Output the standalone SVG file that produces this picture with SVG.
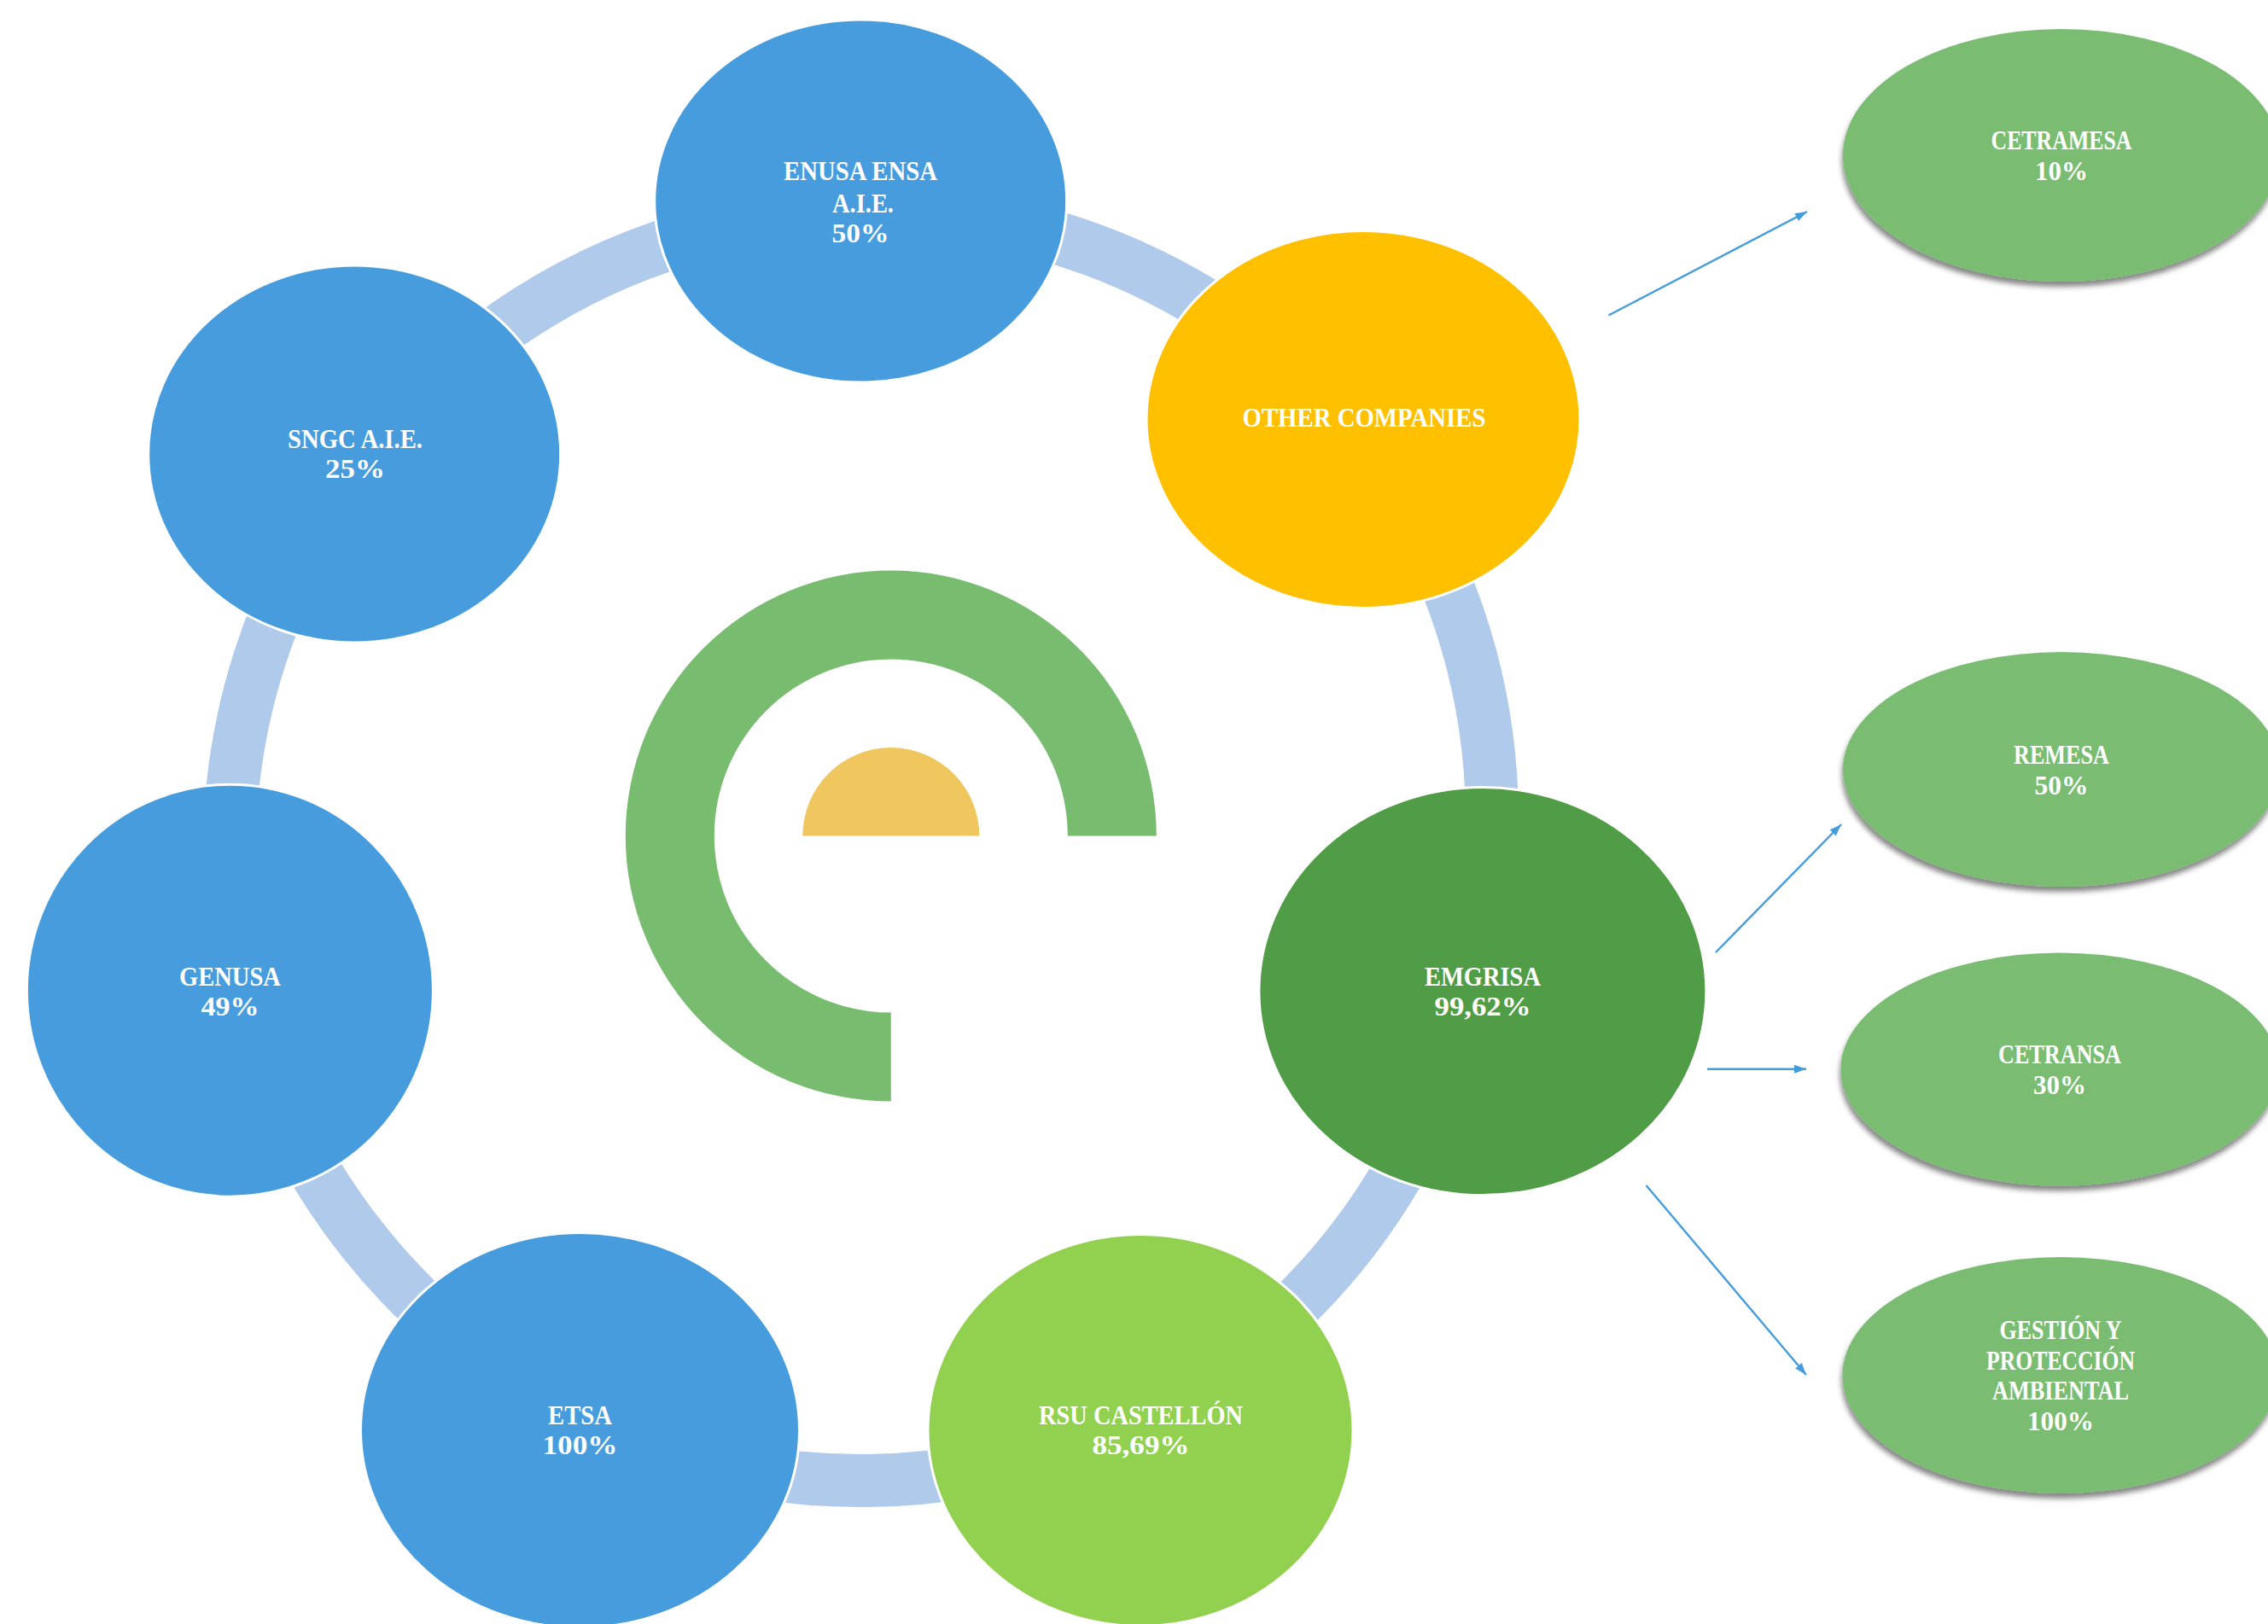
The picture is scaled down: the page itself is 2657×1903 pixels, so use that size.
<svg xmlns="http://www.w3.org/2000/svg" width="2657" height="1903" viewBox="0 0 2657 1903">
<style>
text{font-family:"Liberation Serif",serif;font-weight:bold;font-size:31px;fill:#fff;text-anchor:middle}
.blue{fill:#469CDD;stroke:#fff;stroke-width:3}
.side{fill:#7ABD72;filter:url(#shadow)}
.ring{fill:none;stroke:#AFCAEB;stroke-width:62}
.arrow{fill:none;stroke:#459CDD;stroke-width:2.4;marker-end:url(#head)}
</style>
<defs>
<marker id="head" markerUnits="userSpaceOnUse" markerWidth="14" markerHeight="10" refX="14" refY="5" orient="auto"><path d="M0 0L14 5L0 10Z" fill="#459CDD"/></marker>
<filter id="shadow" x="-10%" y="-10%" width="120%" height="125%"><feDropShadow dx="-1" dy="6" stdDeviation="3" flood-color="#000" flood-opacity=".48"/></filter>
</defs>
<rect width="2657" height="1903" fill="#fff"/>
<g id="logo">
<path d="M1354.8 979.6A311 311 0 1 0 1043.8 1290.6V1186.5A207 207 0 1 1 1250.8 979.6Z" fill="#78BC6F"/>
<path d="M940.3 979.6A103.5 103.5 0 0 1 1147.3 979.6Z" fill="#F0C75E"/>
</g>
<g id="connectors">
<path class="ring" d="M1215 272A744 744 0 0 1 1428 367"/>
<path class="ring" d="M1687 666A744 744 0 0 1 1748 953"/>
<path class="ring" d="M1649 1354A744 744 0 0 1 1502 1544"/>
<path class="ring" d="M1329 1662A744 744 0 0 1 686 1662"/>
<path class="ring" d="M686 1662A744 744 0 0 1 283 1158"/>
<path class="ring" d="M270 953A744 744 0 0 1 328 708"/>
<path class="ring" d="M571 397A744 744 0 0 1 806 279"/>
<line class="arrow" x1="1884.5" y1="369.5" x2="2117" y2="248"/>
<line class="arrow" x1="2010" y1="1116" x2="2157" y2="966"/>
<line class="arrow" x1="2000" y1="1252.7" x2="2116" y2="1252.7"/>
<line class="arrow" x1="1928.5" y1="1389" x2="2116" y2="1611"/>
</g>
<g id="enusa"><ellipse class="blue" cx="1008.2" cy="235.5" rx="241.5" ry="212.5"/><text x="1008" y="211" textLength="180" lengthAdjust="spacingAndGlyphs">ENUSA ENSA</text><text x="1011" y="249" textLength="72" lengthAdjust="spacingAndGlyphs">A.I.E.</text><text x="1008" y="284" textLength="67" lengthAdjust="spacingAndGlyphs">50%</text></g>
<g id="other"><ellipse cx="1597" cy="491.4" rx="254" ry="221" fill="#FFC000" stroke="#fff" stroke-width="3"/><text x="1598" y="500" textLength="285" lengthAdjust="spacingAndGlyphs">OTHER COMPANIES</text></g>
<g id="sngc"><ellipse class="blue" cx="415.2" cy="532" rx="241.5" ry="221"/><text x="416" y="525" textLength="158" lengthAdjust="spacingAndGlyphs">SNGC A.I.E.</text><text x="416" y="560" textLength="70" lengthAdjust="spacingAndGlyphs">25%</text></g>
<g id="genusa"><ellipse class="blue" cx="269.4" cy="1160.7" rx="238" ry="241.5"/><text x="269.5" y="1155" textLength="119" lengthAdjust="spacingAndGlyphs">GENUSA</text><text x="269.5" y="1190" textLength="68" lengthAdjust="spacingAndGlyphs">49%</text></g>
<g id="emgrisa"><ellipse cx="1736.9" cy="1161.6" rx="262" ry="239" fill="#519C47" stroke="#fff" stroke-width="3"/><text x="1737" y="1155" textLength="136" lengthAdjust="spacingAndGlyphs">EMGRISA</text><text x="1737" y="1190" textLength="113" lengthAdjust="spacingAndGlyphs">99,62%</text></g>
<g id="etsa"><ellipse class="blue" cx="679.5" cy="1675.9" rx="257" ry="231.5"/><text x="679.5" y="1669" textLength="75" lengthAdjust="spacingAndGlyphs">ETSA</text><text x="679.5" y="1704" textLength="88" lengthAdjust="spacingAndGlyphs">100%</text></g>
<g id="rsu"><ellipse cx="1336" cy="1676" rx="249" ry="229.5" fill="#92D14F" stroke="#fff" stroke-width="3"/><text x="1336.5" y="1669" textLength="239" lengthAdjust="spacingAndGlyphs">RSU CASTELLÓN</text><text x="1336.5" y="1704" textLength="114" lengthAdjust="spacingAndGlyphs">85,69%</text></g>
<g id="cetramesa"><ellipse class="side" cx="2415" cy="182" rx="256" ry="148"/><text x="2415" y="175" textLength="165" lengthAdjust="spacingAndGlyphs">CETRAMESA</text><text x="2415" y="211" textLength="62" lengthAdjust="spacingAndGlyphs">10%</text></g>
<g id="remesa"><ellipse class="side" cx="2415" cy="901.6" rx="256" ry="137.5"/><text x="2415" y="895" textLength="112" lengthAdjust="spacingAndGlyphs">REMESA</text><text x="2415" y="931" textLength="63" lengthAdjust="spacingAndGlyphs">50%</text></g>
<g id="cetransa"><ellipse class="side" cx="2413" cy="1253" rx="256.5" ry="136.5"/><text x="2413" y="1246" textLength="144" lengthAdjust="spacingAndGlyphs">CETRANSA</text><text x="2413" y="1282" textLength="62" lengthAdjust="spacingAndGlyphs">30%</text></g>
<g id="gestion"><ellipse class="side" cx="2414" cy="1611.5" rx="255.5" ry="138.5"/><text x="2414" y="1569" textLength="143" lengthAdjust="spacingAndGlyphs">GESTIÓN Y</text><text x="2414" y="1604.5" textLength="174" lengthAdjust="spacingAndGlyphs">PROTECCIÓN</text><text x="2414" y="1640" textLength="160" lengthAdjust="spacingAndGlyphs">AMBIENTAL</text><text x="2414" y="1676" textLength="78" lengthAdjust="spacingAndGlyphs">100%</text></g>
</svg>
